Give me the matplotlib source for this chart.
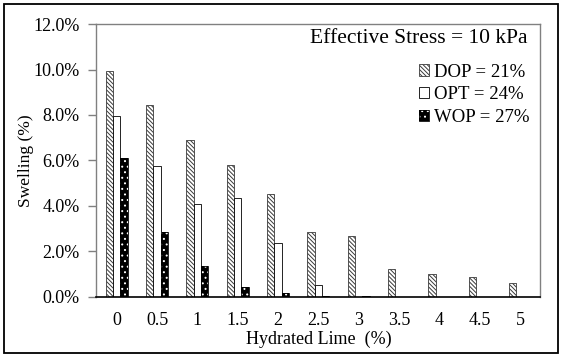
import matplotlib.pyplot as plt
import numpy as np
from matplotlib.patches import Patch, Rectangle
from matplotlib.ticker import FuncFormatter

plt.rcParams['font.family'] = ['Liberation Serif', 'DejaVu Serif']
plt.rcParams['hatch.linewidth'] = 0.7

lime = ['0', '0.5', '1', '1.5', '2', '2.5', '3', '3.5', '4', '4.5', '5']
dop = [9.95, 8.45, 6.9, 5.78, 4.5, 2.85, 2.68, 1.22, 1.01, 0.85, 0.6]
opt = [7.95, 5.73, 4.06, 4.35, 2.38, 0.52, 0.0, 0.0, 0.0, 0.0, 0.0]
wop = [6.1, 2.85, 1.35, 0.43, 0.16, 0.03, 0.03, 0.0, 0.0, 0.0, 0.0]
series_labels = ['DOP = 21%', 'OPT = 24%', 'WOP = 27%']

fig = plt.figure(figsize=(5.61, 3.54), dpi=100)
ax = fig.add_axes([0.172, 0.162, 0.791, 0.770])

x = np.arange(len(lime))
w = 0.18

dop_style = dict(facecolor='white', edgecolor='#3a3a3a', hatch='\\' * 8, linewidth=0.6)
opt_style = dict(facecolor='white', edgecolor='black', linewidth=0.6)
wop_fill = dict(facecolor='black', edgecolor='white', hatch='...', linewidth=0)
wop_edge = dict(facecolor='none', edgecolor='black', linewidth=0.6)

ax.bar(x - w, dop, w, **dop_style)
ax.bar(x, opt, w, **opt_style)
ax.bar(x + w, wop, w, **wop_fill)
ax.bar(x + w, wop, w, **wop_edge)

ax.set_xlim(-0.5, len(lime) - 0.5)
ax.set_ylim(0, 12)
ax.set_yticks(np.arange(0, 12.1, 2))
ax.yaxis.set_major_formatter(FuncFormatter(lambda v, p: '%.1f%%' % v))
ax.set_xticks(x)
ax.set_xticklabels(lime)
ax.tick_params(axis='x', length=0, pad=11, labelsize=13)
ax.tick_params(axis='y', length=6, width=1, color='#808080', pad=6, labelsize=13)

for s in ['left', 'top', 'right']:
    ax.spines[s].set_color('#808080')
    ax.spines[s].set_linewidth(1)
ax.spines['bottom'].set_color('black')
ax.spines['bottom'].set_linewidth(1.2)

ax.set_xlabel('Hydrated Lime  (%)', fontsize=13, labelpad=1)
ax.set_ylabel('Swelling (%)', fontsize=12.5)
ax.yaxis.set_label_coords(-0.141, 0.5)

ax.text(0.971, 0.947, 'Effective Stress = 10 kPa', transform=ax.transAxes,
        ha='right', va='center', fontsize=15.5)

handles = [
    Patch(**dop_style),
    Patch(**opt_style),
    (Patch(**wop_fill), Patch(**wop_edge)),
]
ax.legend(handles, series_labels, loc='upper right', bbox_to_anchor=(0.975, 0.855),
          frameon=False, fontsize=13.5, handlelength=0.55, handleheight=0.55,
          handletextpad=0.25, labelspacing=0.3, borderpad=0, borderaxespad=0)

# outer chart border
fig.patches.append(Rectangle((0.007, 0.004), 0.988, 0.985, transform=fig.transFigure,
                             fill=False, edgecolor='black', linewidth=1.3))

fig.savefig('out.png', dpi=100)
